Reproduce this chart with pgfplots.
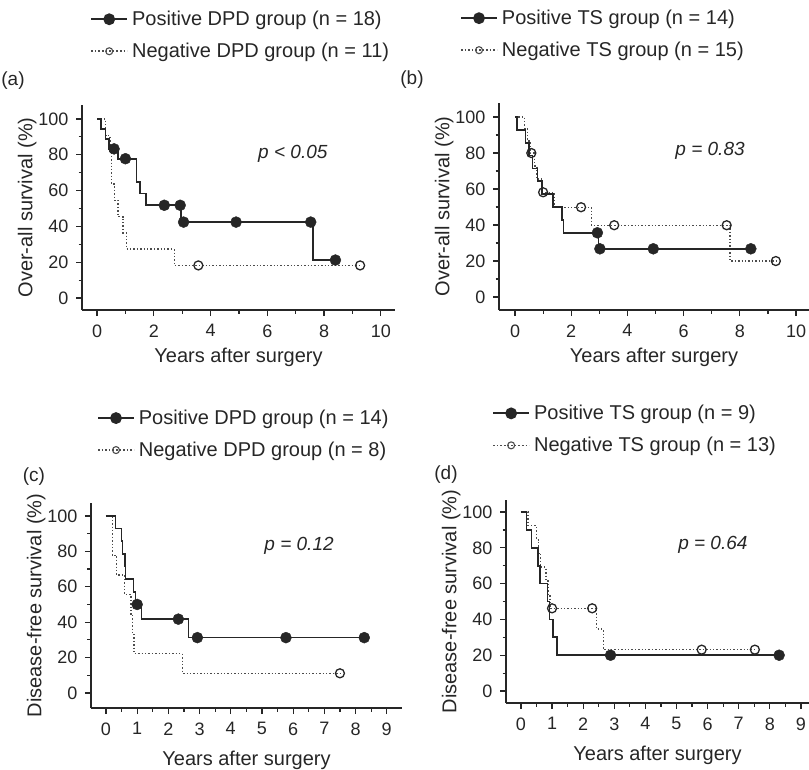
\documentclass[border=0pt]{standalone}
\usepackage{fontspec}
\setmainfont{Liberation Sans}
\usepackage{pgfplots}
\pgfplotsset{compat=1.18}

\pgfplotsset{
  km/.style={
    scale only axis,
    axis x line*=bottom, axis y line*=left,
    axis line style={-, line width=1.5pt, black!85},
    tick align=outside,
    major tick length=6pt, minor tick length=3.5pt,
    xtick style={line width=1.2pt, black!85},
    ytick style={line width=1.2pt, black!85},
    /pgf/number format/assume math mode=true,
    tick label style={font=\fontsize{18}{18}\selectfont, black!85},
    yticklabel style={xshift=-4pt},
    label style={font=\fontsize{20}{22}\selectfont, black!85},
    ylabel shift=-5pt,
    ytick={0,20,...,100}, minor y tick num=1,
    xlabel={Years after surgery},
    clip=false,
    legend image code/.code={\draw[mark repeat=2,mark phase=2,#1] plot coordinates {(0pt,0pt)(18pt,0pt)(36pt,0pt)};},
    legend style={draw=none, fill=none, anchor=north west, font=\fontsize{20}{22}\selectfont,
      row sep=12pt, column sep=2pt, inner sep=0pt, nodes={inner sep=2pt, text=black!85}},
    legend cell align=left,
  },
  pos/.style={const plot, black!85, line width=1.7pt, forget plot},
  neg/.style={const plot, black!70, dotted, line width=1.4pt, forget plot},
  cens/.style={only marks, mark=*, mark size=5.5pt, black!85, forget plot},
  ocens/.style={only marks, mark=o, mark size=4.5pt, black!85, mark options={line width=1.3pt, solid}, forget plot},
  legpos/.style={black!85, line width=1.8pt, mark=*, mark size=5pt},
  legneg/.style={black!70, dotted, line width=1.6pt, mark=o, mark size=3.5pt, mark options={solid, line width=1.1pt}},
}
\tikzset{ptext/.style={font=\fontsize{19}{20}\selectfont\itshape, black!85}}

\begin{document}
\begin{tikzpicture}
\useasboundingbox (0,0) rectangle (809pt,-769pt);

% (a) over-all survival, DPD
\begin{axis}[km, at={(82pt,-310pt)}, anchor=south west, width=313pt, height=205pt,
  xmin=-0.53, xmax=10.5, ymin=-6.7, ymax=107.8,
  xtick={0,2,...,10}, minor x tick num=1,
  xticklabel style={yshift=-5pt}, xlabel style={yshift=-4pt},
  ylabel={Over-all survival (\%)},
  legend style={at={(0.026,1.468)}}]
\addlegendimage{legpos}\addlegendentry{Positive DPD group (n = 18)}
\addlegendimage{legneg}\addlegendentry{Negative DPD group (n = 11)}
\addplot[neg] coordinates {(0,100)(0.3,90.9)(0.45,81.8)(0.5,72.7)(0.52,63.6)(0.62,54.5)(0.74,45.5)(0.92,36.4)(1.04,27.3)(2.72,18.2)(9.27,18.2)};
\addplot[pos] coordinates {(0,100)(0.13,94.4)(0.3,88.9)(0.42,83.3)(0.75,77.8)(1.39,64.8)(1.52,58.3)(1.72,51.8)(2.97,42.4)(7.62,21.2)(8.4,21.2)};
\addplot[cens] coordinates {(0.6,83.3)(1.0,77.8)(2.37,51.8)(2.93,51.8)(3.05,42.4)(4.9,42.4)(7.53,42.4)(8.4,21.2)};
\addplot[ocens] coordinates {(3.57,18.2)(9.27,18.2)};
\node[ptext] at (axis cs:6.9,80.4) {p < 0.05};
\end{axis}

% (b) over-all survival, TS
\begin{axis}[km, at={(499pt,-310pt)}, anchor=south west, width=310pt, height=207pt,
  xmin=-0.57, xmax=10.46, ymin=-7.2, ymax=107.8,
  xtick={0,2,...,10}, minor x tick num=1,
  xticklabel style={yshift=-5pt}, xlabel style={yshift=-4pt},
  ylabel={Over-all survival (\%)},
  legend style={at={(-0.126,1.459)}}]
\addlegendimage{legpos}\addlegendentry{Positive TS group (n = 14)}
\addlegendimage{legneg}\addlegendentry{Negative TS group (n = 15)}
\addplot[neg] coordinates {(0,100)(0.34,93.3)(0.45,86.7)(0.55,80)(0.7,72.7)(0.78,65.5)(0.95,58.2)(1.4,49.9)(2.72,39.9)(7.65,20)(9.28,20)};
\addplot[pos] coordinates {(0,100)(0.08,92.9)(0.37,85.7)(0.5,78.6)(0.62,71.4)(0.8,64.3)(0.97,57.1)(1.35,50)(1.68,42.9)(1.72,35.7)(2.97,26.8)(8.39,26.8)};
\addplot[cens] coordinates {(2.93,35.7)(3.02,26.8)(4.92,26.8)(8.39,26.8)};
\addplot[ocens] coordinates {(0.58,80)(1.0,58.2)(2.35,49.9)(3.53,39.9)(7.53,39.9)(9.28,20)};
\node[ptext] at (axis cs:6.94,81) {p = 0.83};
\end{axis}

% (c) disease-free survival, DPD
\begin{axis}[km, at={(91pt,-708pt)}, anchor=south west, width=311pt, height=205pt,
  xmin=-0.48, xmax=9.49, ymin=-8.5, ymax=107.3,
  xtick={0,...,9}, minor x tick num=1,
  xticklabel style={yshift=-5pt}, xlabel style={yshift=-9pt},
  ylabel={Disease-free survival (\%)},
  legend style={at={(0.019,1.464)}}]
\addlegendimage{legpos}\addlegendentry{Positive DPD group (n = 14)}
\addlegendimage{legneg}\addlegendentry{Negative DPD group (n = 8)}
\addplot[neg] coordinates {(0,100)(0.2,77.8)(0.34,66.7)(0.6,55.6)(0.8,44.4)(0.86,33.3)(0.9,22.2)(2.45,11.1)(7.5,11.1)};
\addplot[pos] coordinates {(0,100)(0.31,92.9)(0.5,85.7)(0.53,78.6)(0.6,71.4)(0.63,64.3)(0.88,57.1)(0.95,50)(1.14,41.7)(2.65,31.25)(8.28,31.25)};
\addplot[cens] coordinates {(1.0,50)(2.32,41.7)(2.93,31.25)(5.77,31.25)(8.28,31.25)};
\addplot[ocens] coordinates {(7.5,11.1)};
\node[ptext] at (axis cs:6.19,83) {p = 0.12};
\end{axis}

% (d) disease-free survival, TS
\begin{axis}[km, at={(506pt,-703pt)}, anchor=south west, width=303pt, height=203pt,
  xmin=-0.48, xmax=9.26, ymin=-6.7, ymax=106.7,
  xtick={0,...,9}, minor x tick num=1,
  xticklabel style={yshift=-5pt}, xlabel style={yshift=-9pt},
  ylabel={Disease-free survival (\%)},
  legend style={at={(-0.046,1.477)}}]
\addlegendimage{legpos}\addlegendentry{Positive TS group (n = 9)}
\addlegendimage{legneg}\addlegendentry{Negative TS group (n = 13)}
\addplot[neg] coordinates {(0,100)(0.23,92.3)(0.5,84.6)(0.57,76.9)(0.62,69.2)(0.8,61.5)(0.87,53.8)(0.93,46.2)(2.43,34.6)(2.65,23.1)(7.52,23.1)};
\addplot[pos] coordinates {(0,100)(0.18,90)(0.34,80)(0.54,70)(0.62,60)(0.85,50)(0.92,40)(1.02,30)(1.15,20)(8.3,20)};
\addplot[cens] coordinates {(2.88,20)(8.3,20)};
\addplot[ocens] coordinates {(1.0,46.2)(2.29,46.2)(5.81,23.1)(7.52,23.1)};
\node[ptext] at (axis cs:6.17,81.6) {p = 0.64};
\end{axis}

\node[font=\fontsize{19}{20}\selectfont, black!85] at (13pt,-81pt) {(a)};
\node[font=\fontsize{19}{20}\selectfont, black!85] at (412pt,-80pt) {(b)};
\node[font=\fontsize{19}{20}\selectfont, black!85] at (34pt,-477pt) {(c)};
\node[font=\fontsize{19}{20}\selectfont, black!85] at (446pt,-475pt) {(d)};
\end{tikzpicture}
\end{document}
